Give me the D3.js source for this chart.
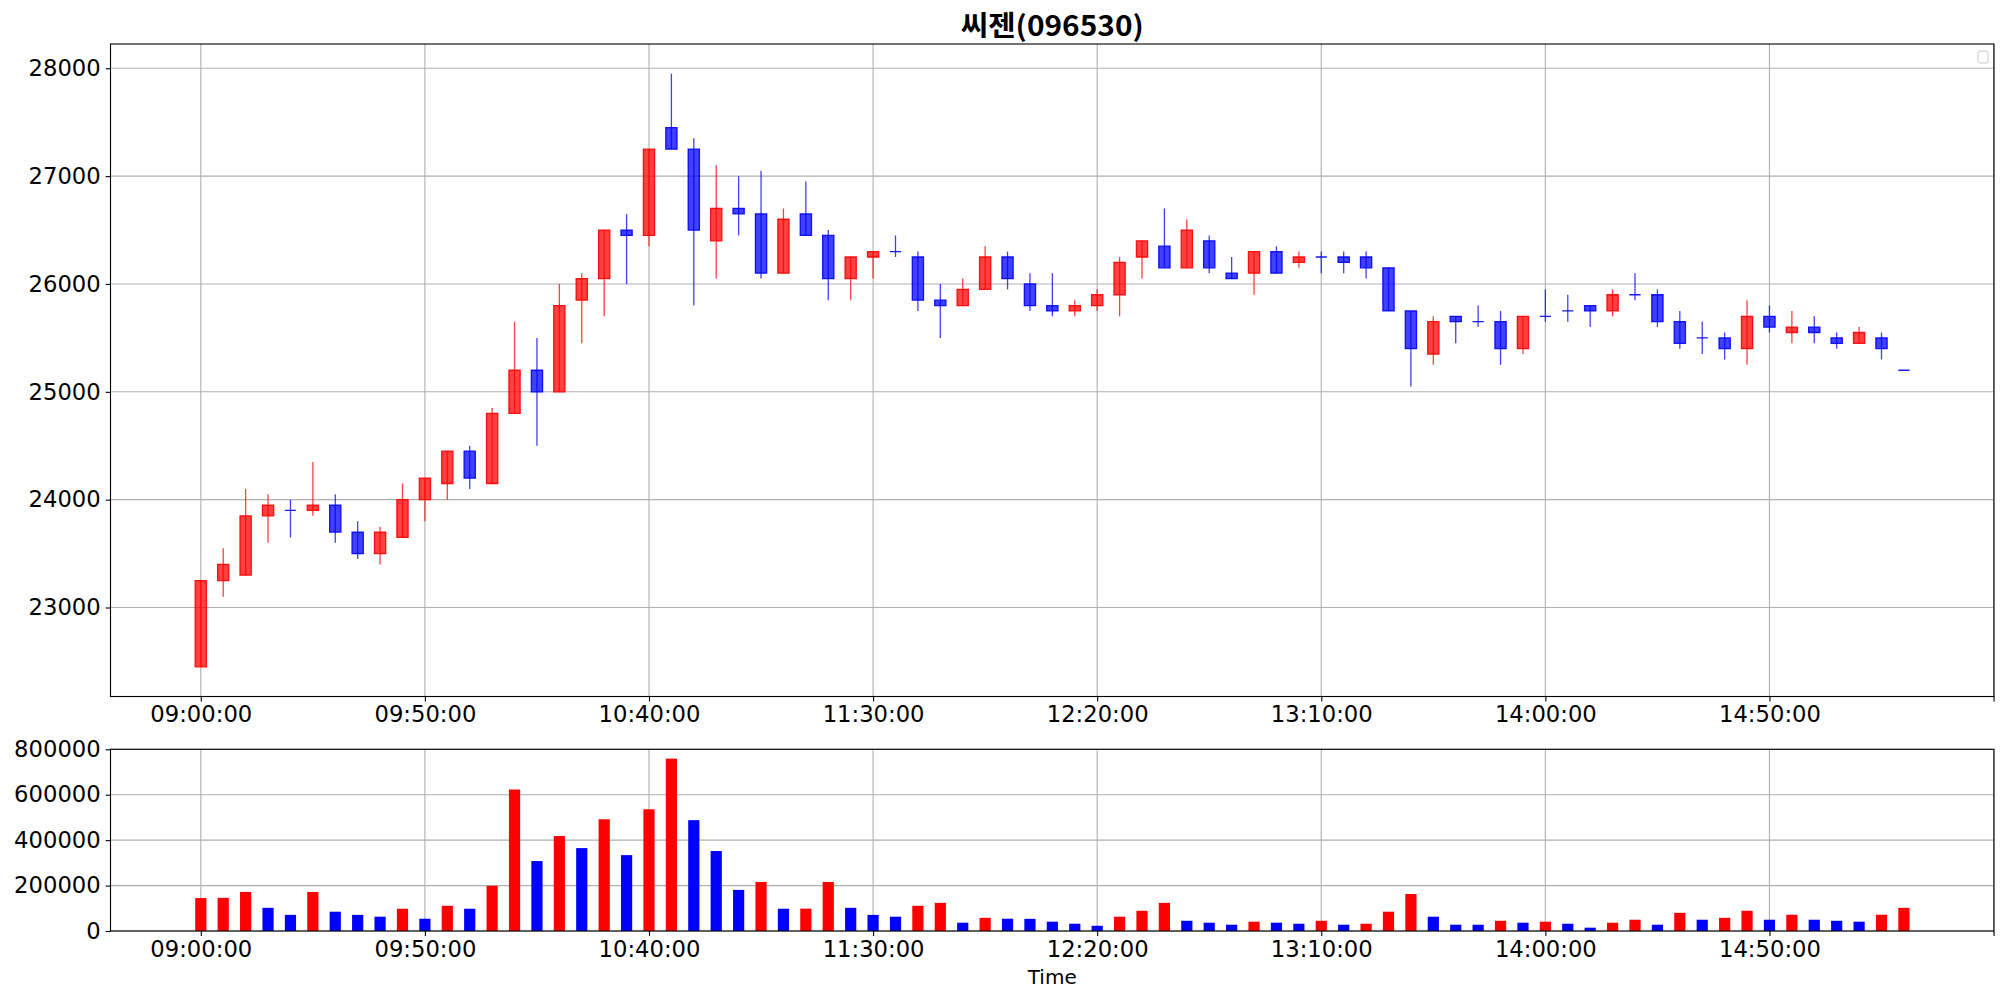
<!DOCTYPE html>
<html>
<head>
<meta charset="utf-8">
<script src="https://cdn.jsdelivr.net/npm/d3@7/dist/d3.min.js"></script>
<style>
html,body{margin:0;padding:0;background:#fff;}
svg{display:block;}
</style>
</head>
<body>
<svg id="chart" width="2004" height="999"></svg>
<script>
const title = "씨젠(096530)";
const times = [
"09:00","09:05","09:10","09:15","09:20","09:25","09:30","09:35","09:40","09:45","09:50","09:55",
"10:00","10:05","10:10","10:15","10:20","10:25","10:30","10:35","10:40","10:45","10:50","10:55",
"11:00","11:05","11:10","11:15","11:20","11:25","11:30","11:35","11:40","11:45","11:50","11:55",
"12:00","12:05","12:10","12:15","12:20","12:25","12:30","12:35","12:40","12:45","12:50","12:55",
"13:00","13:05","13:10","13:15","13:20","13:25","13:30","13:35","13:40","13:45","13:50","13:55",
"14:00","14:05","14:10","14:15","14:20","14:25","14:30","14:35","14:40","14:45","14:50","14:55",
"15:00","15:05","15:10","15:15","15:20"];
const openP = [
22450,23250,23300,23850,23900,23900,23950,23700,23500,23650,
24000,24150,24450,24150,24800,25200,25000,25850,26050,26500,
26450,27450,27250,26400,26700,26650,26100,26650,26450,26050,
26250,26300,26250,25850,25800,25950,26250,26000,25800,25750,
25800,25900,26250,26350,26150,26400,26100,26100,26300,26200,
26250,26250,26250,26150,25750,25350,25700,25650,25650,25400,
25700,25750,25800,25750,25900,25900,25650,25500,25500,25400,
25700,25550,25600,25500,25450,25500,25200];
const highP = [
23250,23550,24100,24050,24000,24350,24050,23800,23750,24150,
24200,24450,24500,24850,25650,25500,26000,26100,26500,26650,
27250,27950,27350,27100,27000,27050,26700,26950,26500,26250,
26300,26450,26300,26000,26050,26350,26300,26100,26100,25850,
25950,26250,26400,26700,26600,26450,26250,26300,26350,26300,
26300,26300,26300,26150,25750,25700,25700,25800,25750,25700,
25950,25900,25800,25950,26100,25950,25750,25650,25550,25850,
25800,25750,25700,25550,25600,25550,25200];
const lowP = [
22450,23100,23300,23600,23650,23850,23600,23450,23400,23650,
23800,24000,24100,24150,24800,24500,25000,25450,25700,26000,
26350,27250,25800,26050,26450,26050,26100,26450,25850,25850,
26050,26250,25750,25500,25800,25950,25950,25750,25700,25700,
25750,25700,26050,26150,26150,26100,26050,25900,26100,26150,
26100,26100,26050,25750,25050,25250,25450,25600,25250,25350,
25650,25650,25600,25700,25850,25600,25400,25350,25300,25250,
25550,25450,25450,25400,25450,25300,25200];
const closeP = [
23250,23400,23850,23950,23900,23950,23700,23500,23700,24000,
24200,24450,24200,24800,25200,25000,25800,26050,26500,26450,
27250,27250,26500,26700,26650,26100,26600,26450,26050,26250,
26300,26300,25850,25800,25950,26250,26050,25800,25750,25800,
25900,26200,26400,26150,26500,26150,26050,26300,26100,26250,
26250,26200,26150,25750,25400,25650,25650,25650,25400,25700,
25700,25750,25750,25900,25900,25650,25450,25500,25400,25700,
25600,25600,25550,25450,25550,25400,25200];
const volume = [
145000,146000,172000,102000,71000,172000,85000,71000,63000,98000,
54000,111000,98000,199000,623000,308000,418000,365000,492000,334000,
536000,759000,488000,352000,181000,216000,98000,98500,216000,102000,
71000,63000,111000,124000,36500,58000,54000,53500,41000,32000,
23000,63000,89000,124000,45000,36500,27700,41000,36500,32000,
45000,27700,32000,85000,163000,63000,27700,27500,45000,36500,
41000,32000,14600,36500,49600,27700,80000,49600,58000,89000,
49600,71500,49600,45000,41000,71500,102000];
const xTickLabels = ["09:00:00","09:50:00","10:40:00","11:30:00","12:20:00","13:10:00","14:00:00","14:50:00"];
const priceTicks = [23000,24000,25000,26000,27000,28000];
const volumeTicks = [0,200000,400000,600000,800000];
const xAxisTitle = "Time";

const svg = d3.select("#chart");
const L = 110.5, R = 1994;
const mainTop = 44, mainBot = 696.5, volTop = 749.3, volBot = 931;
const FONT = "'DejaVu Sans', sans-serif";
const GRID = "#b0b0b0";

const x = d3.scaleLinear().domain([-4.03, 80.02]).range([L, R]);
const tickIdx = d3.range(0, 81, 10);
const yP = d3.scaleLinear().domain([22175, 28225]).range([mainBot, mainTop]);
const yV = d3.scaleLinear().domain([0, 800000]).range([volBot, volTop]);
const bw = x(0.5) - x(0);
const UP = "#ff0000", DOWN = "#0000ff";

function panel(g, yScale, yTicks, top, bot) {
  // gridlines
  g.append("g").selectAll("line.v").data(tickIdx).join("line")
    .attr("x1", d => x(d)).attr("x2", d => x(d)).attr("y1", top).attr("y2", bot)
    .attr("stroke", GRID).attr("stroke-width", 1.1);
  g.append("g").selectAll("line.h").data(yTicks).join("line")
    .attr("x1", L).attr("x2", R).attr("y1", d => yScale(d)).attr("y2", d => yScale(d))
    .attr("stroke", GRID).attr("stroke-width", 1.1);
}
function axes(g, yScale, yTicks, top, bot) {
  const xa = g.append("g").attr("transform", `translate(0,${bot})`)
    .call(d3.axisBottom(x).tickValues(tickIdx).tickFormat((d, k) => xTickLabels[k] || "").tickSize(4.9).tickPadding(4.9));
  const ya = g.append("g").attr("transform", `translate(${L},0)`)
    .call(d3.axisLeft(yScale).tickValues(yTicks).tickFormat(d3.format("d")).tickSize(4.9).tickPadding(4.9));
  [xa, ya].forEach(a => {
    a.select(".domain").remove();
    a.selectAll(".tick line").attr("stroke", "#000").attr("stroke-width", 1.1);
    a.selectAll(".tick text").attr("fill", "#000").style("font-family", FONT).style("font-size", "22.7px");
  });
  g.append("rect").attr("x", L).attr("y", top).attr("width", R - L).attr("height", bot - top)
    .attr("fill", "none").attr("stroke", "#000").attr("stroke-width", 1.1);
}

// main panel
const gm = svg.append("g");
panel(gm, yP, priceTicks, mainTop, mainBot);
const idx = d3.range(times.length);
const isUp = i => closeP[i] > openP[i];
const gc = gm.append("g");
gc.selectAll("path.body").data(idx).join("path")
  .attr("d", i => {
    const x0 = x(i) - bw / 2;
    const yt = yP(Math.max(openP[i], closeP[i]));
    const yb = yP(Math.min(openP[i], closeP[i]));
    return `M${x0},${yt}H${x0 + bw}V${yb}H${x0}Z`;
  })
  .attr("fill", i => isUp(i) ? UP : DOWN).attr("fill-opacity", 0.75)
  .attr("stroke", i => isUp(i) ? UP : DOWN).attr("stroke-width", 1.3).attr("stroke-opacity", 0.9);
gc.selectAll("line.wick").data(idx).join("line")
  .attr("x1", i => x(i)).attr("x2", i => x(i))
  .attr("y1", i => yP(highP[i])).attr("y2", i => yP(lowP[i]))
  .attr("stroke", i => isUp(i) ? UP : DOWN).attr("stroke-width", 1.3).attr("stroke-opacity", 0.75);
axes(gm, yP, priceTicks, mainTop, mainBot);

// legend (empty)
svg.append("rect").attr("x", 1978).attr("y", 51).attr("width", 10).attr("height", 12).attr("rx", 2)
  .attr("fill", "#fff").attr("fill-opacity", 0.8).attr("stroke", "#cccccc").attr("stroke-width", 1);

// title
svg.append("text").attr("x", (L + R) / 2).attr("y", 36).attr("text-anchor", "middle")
  .style("font-family", "'Noto Sans CJK KR', sans-serif").style("font-weight", 700).style("font-size", "28px")
  .attr("textLength", 183).attr("lengthAdjust", "spacingAndGlyphs")
  .text(title);

// volume panel
const gv = svg.append("g");
panel(gv, yV, volumeTicks, volTop, volBot);
gv.append("g").selectAll("rect").data(idx).join("rect")
  .attr("x", i => x(i) - bw / 2).attr("width", bw)
  .attr("y", i => yV(volume[i])).attr("height", i => yV(0) - yV(volume[i]))
  .attr("fill", i => (i === 0 || volume[i] > volume[i - 1]) ? UP : DOWN);
axes(gv, yV, volumeTicks, volTop, volBot);

svg.append("text").attr("x", (L + R) / 2).attr("y", 984).attr("text-anchor", "middle")
  .style("font-family", FONT).style("font-size", "20px").text(xAxisTitle);
</script>
</body>
</html>
